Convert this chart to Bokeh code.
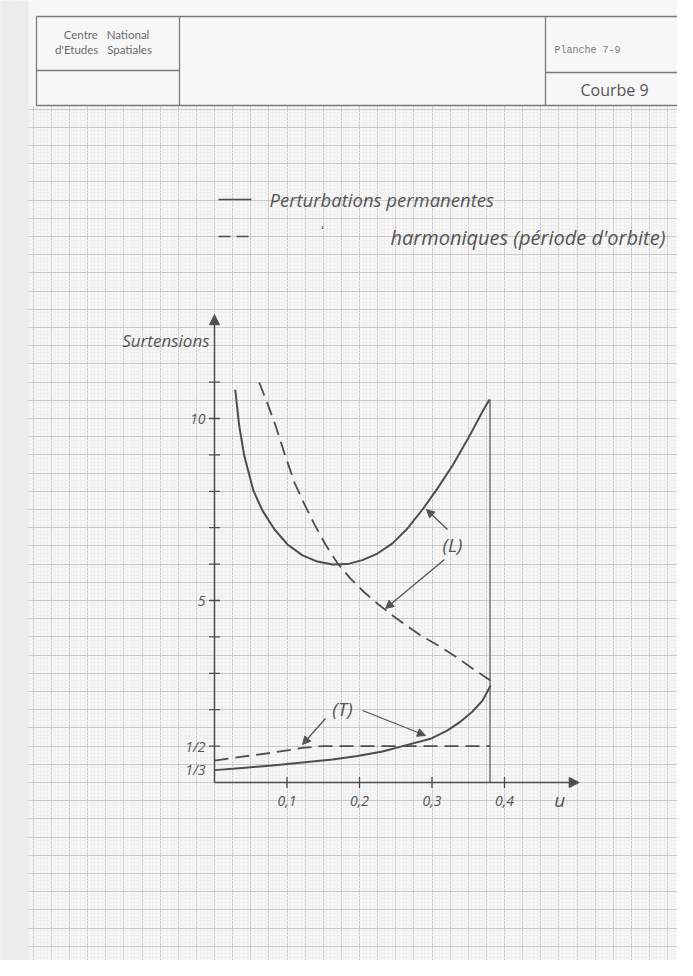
import numpy as np
from bokeh.plotting import figure
from bokeh.models import Arrow, NormalHead, Grid, FixedTicker, Range1d
from bokeh.core.properties import value
from bokeh.embed import file_html
from bokeh.resources import INLINE

# ---------------- data ----------------
# (L) permanent perturbations, solid
u_L_perm = [0.0286, 0.0341, 0.041, 0.0538, 0.0662, 0.0828, 0.1007, 0.1214, 0.142,
            0.1628, 0.1834, 0.204, 0.2248, 0.2455, 0.2662, 0.2869, 0.3076, 0.3283,
            0.349, 0.3697, 0.3793]
L_perm = [10.79, 9.80, 8.98, 8.01, 7.47, 6.95, 6.54, 6.24, 6.07,
          5.99, 6.00, 6.11, 6.29, 6.57, 6.98, 7.50, 8.08, 8.71,
          9.42, 10.19, 10.52]
# (L) harmonics (orbit period), dashed
u_L_harm = [0.0617, 0.0731, 0.0841, 0.0966, 0.1103, 0.1241, 0.1379, 0.1531, 0.1697,
            0.1876, 0.2069, 0.2262, 0.2455, 0.2662, 0.2869, 0.3103, 0.3324, 0.3559, 0.3807]
L_harm = [10.99, 10.41, 9.81, 9.04, 8.24, 7.64, 7.09, 6.54, 6.02,
          5.60, 5.22, 4.89, 4.59, 4.29, 4.01, 3.74, 3.46, 3.13, 2.80]
# (T) permanent perturbations, solid
u_T_perm = [0.0, 0.0386, 0.08, 0.1214, 0.1628, 0.1972, 0.2317, 0.2634, 0.2993,
            0.3214, 0.3379, 0.3559, 0.3697, 0.3807]
T_perm = [0.34, 0.40, 0.47, 0.55, 0.63, 0.73, 0.85, 1.02, 1.21,
          1.43, 1.65, 1.95, 2.25, 2.66]
# (T) harmonics, dashed
u_T_harm = [0.0, 0.0386, 0.08, 0.1214, 0.149, 0.38]
T_harm = [0.60, 0.71, 0.82, 0.95, 1.00, 1.00]

x_ticks = [0.1, 0.2, 0.3, 0.4]
x_tick_labels = ["0,1", "0,2", "0,3", "0,4"]
y_ticks = list(range(1, 12))
y_label_vals = [10, 5, 1, 0.36]
y_label_text = ["10", "5", "1/2", "1/3"]
u_limit = 0.38

# ---------------- page geometry ----------------
W, H = 677, 960
X0, UX = 222.0, 725.0      # reference pixel of u=0, pixels per unit of u
Y0, SY = 790.0, 36.4       # reference pixel of s=0, pixels per unit of s


def xu(px):
    return (px - X0) / UX


def ys(py):
    return (Y0 - py) / SY


x_rng = Range1d(xu(8), xu(8 + W))
y_rng = Range1d(ys(8 + H), ys(8))

INK = "#4d4d4d"
TXT = "#555555"
PAPER = "#f7f7f7"
HAND = value("Open Sans")
NB = "\u00a0"

p = figure(width=W, height=H, x_range=x_rng, y_range=y_rng,
           output_backend="svg", toolbar_location=None,
           x_axis_location=None, y_axis_location=None,
           min_border=0, outline_line_color=None,
           background_fill_color=PAPER, border_fill_color=PAPER)
p.grid.visible = False

# graph paper
gx_major = list(np.arange(-12, 26) * 0.025)
gx_minor = list(np.arange(-60, 130) * 0.005)
gy_major = list(np.arange(-10, 44) * 0.5)
gy_minor = list(np.arange(-50, 220) * 0.1)
for dim, major, minor in [(0, gx_major, gx_minor), (1, gy_major, gy_minor)]:
    p.add_layout(Grid(dimension=dim, ticker=FixedTicker(ticks=major, minor_ticks=minor),
                      grid_line_color="#c9c9c9", grid_line_width=1,
                      minor_grid_line_color="#efefef", minor_grid_line_width=1))

# margins / title area hiding the grid
p.quad(left=xu(0), right=xu(36), bottom=ys(1000), top=ys(0), fill_color="#ececec", line_color=None)
p.quad(left=xu(36), right=xu(700), bottom=ys(113), top=ys(0), fill_color=PAPER, line_color=None)

# title block
p.multi_line(xs=[[xu(44), xu(688), xu(688), xu(44), xu(44)],
                 [xu(187), xu(187)], [xu(553), xu(553)],
                 [xu(44), xu(187)], [xu(553), xu(688)]],
             ys=[[ys(24), ys(24), ys(113), ys(113), ys(24)],
                 [ys(24), ys(113)], [ys(24), ys(113)],
                 [ys(78), ys(78)], [ys(80), ys(80)]],
             line_color="#7a7a7a", line_width=1.3)
p.text(x=[xu(114), xu(111)], y=[ys(42), ys(57)],
       text=["Centre" + NB * 3 + "National", "d'Etudes" + NB * 3 + "Spatiales"],
       text_font=value("Lato"), text_font_size="11.5px", text_color="#6a6a6a",
       text_align="center", text_baseline="middle")
p.text(x=[xu(562)], y=[ys(58)], text=["Planche 7-9"], text_font=value("Liberation Mono"),
       text_font_size="10px", text_color="#777777", text_align="left", text_baseline="middle")
p.text(x=[xu(622)], y=[ys(97)], text=["Courbe 9"], text_font=HAND,
       text_font_size="16px", text_color=TXT, text_align="center", text_baseline="middle")

# legend
p.line(x=[xu(226), xu(259)], y=[ys(207), ys(207)], line_color=INK, line_width=1.6)
p.line(x=[xu(226), xu(256)], y=[ys(244), ys(244)], line_color=INK, line_width=1.6, line_dash="12 6")
p.text(x=[xu(277)], y=[ys(207)], text=["Perturbations permanentes"], text_font=HAND,
       text_font_style="italic", text_font_size="18.5px", text_color=TXT,
       text_align="left", text_baseline="alphabetic")
p.text(x=[xu(330)], y=[ys(236)], text=["ʻ"], text_font=HAND, text_font_size="13px",
       text_color=TXT, text_align="center", text_baseline="middle")
p.text(x=[xu(398)], y=[ys(245)], text=["harmoniques (période d'orbite)"], text_font=HAND,
       text_font_style="italic", text_font_size="20px", text_color=TXT,
       text_align="left", text_baseline="alphabetic")

# axes with arrows
p.add_layout(Arrow(x_start=0, y_start=0, x_end=0, y_end=12.85, line_color=INK, line_width=1.5,
                   end=NormalHead(size=10, fill_color=INK, line_color=INK)))
p.add_layout(Arrow(x_start=0, y_start=0, x_end=0.503, y_end=0, line_color=INK, line_width=1.5,
                   end=NormalHead(size=10, fill_color=INK, line_color=INK)))
p.dash(x=[0] * len(y_ticks), y=y_ticks, size=11, line_color=INK, line_width=1.3)
p.dash(x=x_ticks, y=[0] * len(x_ticks), size=11, angle=np.pi / 2, line_color=INK, line_width=1.3)
p.text(x=[0] * len(y_label_vals), y=y_label_vals, text=y_label_text, x_offset=-9,
       text_font=HAND, text_font_style="italic", text_font_size="14px", text_color=TXT,
       text_align="right", text_baseline="middle")
p.text(x=x_ticks, y=[0] * len(x_ticks), text=x_tick_labels, y_offset=18,
       text_font=HAND, text_font_style="italic", text_font_size="14px", text_color=TXT,
       text_align="center", text_baseline="middle")
p.text(x=[0.476], y=[0], text=["u"], y_offset=17, text_font=HAND, text_font_style="italic",
       text_font_size="19px", text_color=TXT, text_align="center", text_baseline="middle")
p.text(x=[0], y=[12.14], text=["Surtensions"], x_offset=-5, text_font=HAND,
       text_font_style="italic", text_font_size="17px", text_color=TXT,
       text_align="right", text_baseline="middle")

# limit line
p.line(x=[u_limit, u_limit], y=[0, L_perm[-1]], line_color="#666666", line_width=1.4)

# curves
p.line(x=u_L_perm, y=L_perm, line_color=INK, line_width=2, line_join="round")
p.line(x=u_L_harm, y=L_harm, line_color=INK, line_width=1.8, line_dash="14 7")
p.line(x=u_T_perm, y=T_perm, line_color=INK, line_width=2, line_join="round")
p.line(x=u_T_harm, y=T_harm, line_color=INK, line_width=1.8, line_dash="14 7")

# curve labels and pointer arrows
p.text(x=[xu(460), xu(350)], y=[ys(552), ys(716)], text=["(L)", "(T)"], text_font=HAND,
       text_font_style="italic", text_font_size="19px", text_color=TXT,
       text_align="center", text_baseline="middle")
head = dict(size=8, fill_color=TXT, line_color=TXT)
for (a, b, c, d) in [(455, 537, 434, 517), (452, 567, 393, 616),
                     (370, 718, 433, 743), (333, 726, 310, 752)]:
    p.add_layout(Arrow(x_start=xu(a), y_start=ys(b), x_end=xu(c), y_end=ys(d),
                       line_color=TXT, line_width=1.3, end=NormalHead(**head)))

open("out.html", "w").write(file_html(p, INLINE))
